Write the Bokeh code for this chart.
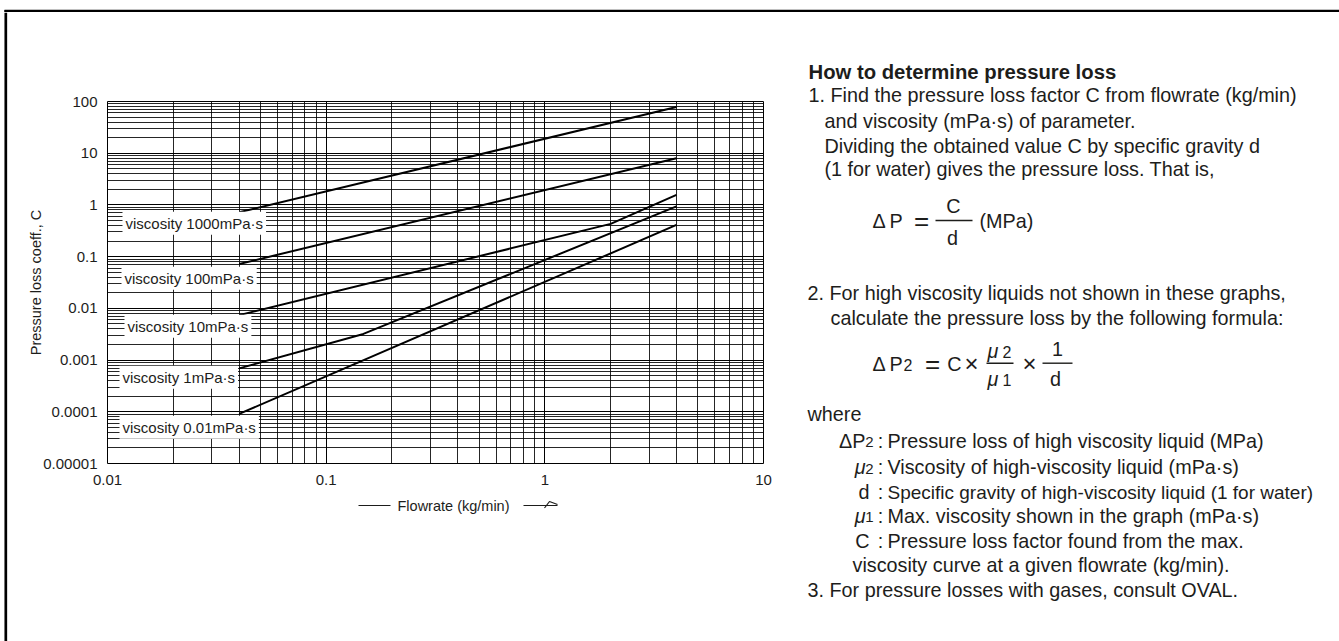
from bokeh.plotting import figure
from bokeh.layouts import row, column
from bokeh.models import Range1d, FixedTicker, CustomJSTickFormatter, Label
from bokeh.embed import file_html
from bokeh.resources import INLINE

# ---------------- data ----------------
X_RANGE = (0.01, 10)
Y_RANGE = (0.00001, 100)
X_TICKS = [0.01, 0.1, 1, 10]
X_TICK_LABELS = ["0.01", "0.1", "1", "10"]
Y_TICKS = [0.00001, 0.0001, 0.001, 0.01, 0.1, 1, 10, 100]
Y_TICK_LABELS = ["0.00001", "0.0001", "0.001", "0.01", "0.1", "1", "10", "100"]

SERIES_NAMES = ["viscosity 1000mPa·s", "viscosity 100mPa·s", "viscosity 10mPa·s",
                "viscosity 1mPa·s", "viscosity 0.01mPa·s"]
FLOW_V1000 = [0.04, 4.0]
COEF_V1000 = [0.72, 78.0]
FLOW_V100 = [0.04, 4.0]
COEF_V100 = [0.072, 8.0]
FLOW_V10 = [0.04, 2.0, 4.0]
COEF_V10 = [0.0074, 0.43, 1.57]
FLOW_V1 = [0.04, 0.148, 4.0]
COEF_V1 = [0.00069, 0.0032, 0.94]
FLOW_V001 = [0.04, 4.0]
COEF_V001 = [0.000091, 0.41]

X_LABEL = "Flowrate (kg/min)"
Y_LABEL = "Pressure loss coeff., C"

# ---------------- layout (page pixels) ----------------
W, H = 1339, 641
TOP_H = 12          # strip holding the top rule
LEFT_W = 8          # strip holding the left rule
CHART_W, CHART_H = 772, 480
FRAME_X0, FRAME_X1, FRAME_Y0, FRAME_Y1 = 107, 763, 101, 463
FONT = "Liberation Sans"
INK = "#1d1d1b"
TXT = 19.8


def blank(x0, x1, y0, y1, bl=0, br=0):
    """Figure in page-pixel coordinates (y down); frame spans x0+bl .. x1-br."""
    f = figure(width=int(x1 - x0), height=int(y1 - y0),
               x_range=Range1d(x0 + bl, x1 - br), y_range=Range1d(y1, y0),
               min_border=0, min_border_left=bl, min_border_right=br,
               x_axis_location=None, y_axis_location=None,
               output_backend="svg", toolbar_location=None, align="start",
               background_fill_color="white", border_fill_color="white")
    f.outline_line_color = None
    f.grid.visible = False
    return f


def text(f, x, y, s, size=TXT, align="left", style="normal", **kw):
    f.add_layout(Label(x=x, y=y, text=s, text_font=FONT, text_font_size=f"{size}px",
                       text_font_style=style, text_align=align,
                       text_baseline="middle", text_color=INK, **kw))


# ---------------- chart ----------------
p = figure(x_axis_type="log", y_axis_type="log",
           x_range=Range1d(*X_RANGE), y_range=Range1d(*Y_RANGE),
           width=CHART_W, height=CHART_H,
           min_border_left=FRAME_X0 - LEFT_W, min_border_right=LEFT_W + CHART_W - FRAME_X1,
           min_border_top=FRAME_Y0 - TOP_H, min_border_bottom=TOP_H + CHART_H - FRAME_Y1,
           output_backend="svg", toolbar_location=None, align="start",
           background_fill_color="white", border_fill_color="white")
p.outline_line_color = "black"
p.outline_line_width = 1

minor_x = [m * 10.0 ** e for e in range(-2, 1) for m in range(2, 10)]
minor_y = [m * 10.0 ** e for e in range(-5, 2) for m in range(2, 10)]
xt = FixedTicker(ticks=X_TICKS, minor_ticks=minor_x)
yt = FixedTicker(ticks=Y_TICKS, minor_ticks=minor_y)

FMT_CODE = """
let best = 0, d = Infinity;
for (let i = 0; i < vals.length; i++) {
  const e = Math.abs(Math.log10(vals[i]) - Math.log10(tick));
  if (e < d) { d = e; best = i; }
}
return labs[best];
"""
p.xaxis.ticker = xt
p.yaxis.ticker = yt
p.xgrid.ticker = xt
p.ygrid.ticker = yt
p.xaxis.formatter = CustomJSTickFormatter(args=dict(vals=X_TICKS, labs=X_TICK_LABELS), code=FMT_CODE)
p.yaxis.formatter = CustomJSTickFormatter(args=dict(vals=Y_TICKS, labs=Y_TICK_LABELS), code=FMT_CODE)

for ax in (p.xaxis[0], p.yaxis[0]):
    ax.axis_line_color = None
    ax.major_tick_line_color = None
    ax.minor_tick_line_color = None
    ax.major_tick_out = 0
    ax.minor_tick_out = 0
    ax.major_tick_in = 0
    ax.minor_tick_in = 0
    ax.major_label_text_font = FONT
    ax.major_label_text_font_size = "15px"
    ax.major_label_text_color = INK
p.xaxis.major_label_standoff = 11
p.yaxis.major_label_standoff = 10
p.yaxis.axis_label = Y_LABEL
p.yaxis.axis_label_text_font = FONT
p.yaxis.axis_label_text_font_size = "14.5px"
p.yaxis.axis_label_text_font_style = "normal"
p.yaxis.axis_label_text_color = INK
p.yaxis.axis_label_standoff = -4

p.grid.grid_line_color = "black"
p.grid.grid_line_width = 1
p.grid.minor_grid_line_color = "black"
p.grid.minor_grid_line_width = 1
p.grid.minor_grid_line_alpha = 0.85

for xs, ys in [(FLOW_V1000, COEF_V1000), (FLOW_V100, COEF_V100), (FLOW_V10, COEF_V10),
               (FLOW_V1, COEF_V1), (FLOW_V001, COEF_V001)]:
    p.line(xs, ys, line_color="black", line_width=2)

# series labels on white boxes (screen units are relative to the frame's lower-left)
LABEL_X = [122, 121, 124, 119, 119]
LABEL_Y = [222.7, 277.7, 325.7, 376.7, 426.7]
for name, lx, ly in zip(SERIES_NAMES, LABEL_X, LABEL_Y):
    p.add_layout(Label(x=lx - FRAME_X0, y=FRAME_Y1 - ly, x_units="screen", y_units="screen",
                       text=name, text_font=FONT, text_font_size="15px",
                       text_baseline="middle", text_color=INK,
                       background_fill_color="white", background_fill_alpha=1.0, padding=3))

# ---------------- x-axis caption strip (frame aligned with the chart frame) ----------------
leg = blank(LEFT_W, LEFT_W + CHART_W, TOP_H + CHART_H, H,
            bl=FRAME_X0 - LEFT_W, br=LEFT_W + CHART_W - FRAME_X1)
text(leg, 397, 505, X_LABEL, size=14.5)
leg.segment(x0=[358, 523], y0=[505, 505], x1=[390, 557], y1=[505, 505],
            line_color=INK, line_width=1.2)
leg.line([544, 549, 557], [507.5, 501, 504], line_color=INK, line_width=1.2)

# ---------------- page rules ----------------
top = blank(0, W, 0, TOP_H)
top.segment(x0=[4], y0=[10.5], x1=[W], y1=[10.5], line_color="black", line_width=2.3)
top.segment(x0=[5.3], y0=[9.4], x1=[5.3], y1=[TOP_H], line_color="black", line_width=2.7)
left = blank(0, LEFT_W, TOP_H, H)
left.segment(x0=[5.3], y0=[TOP_H], x1=[5.3], y1=[H], line_color="black", line_width=2.7)

# ---------------- explanatory text ----------------
t = blank(LEFT_W + CHART_W, W, TOP_H, H)
text(t, 808, 71, "How to determine pressure loss", size=20.3, style="bold")
text(t, 808, 94, "1. Find the pressure loss factor C from flowrate (kg/min)")
text(t, 824, 120, "and viscosity (mPa·s) of parameter.")
text(t, 824, 145, "Dividing the obtained value C by specific gravity d")
text(t, 824, 168, "(1 for water) gives the pressure loss. That is,")

# formula 1
text(t, 872, 220, "Δ")
text(t, 889, 220, "P")
text(t, 921, 220, "=", size=26, align="center")
text(t, 953, 205, "C", align="center")
text(t, 952, 237, "d", align="center")
text(t, 979, 220, "(MPa)")

text(t, 807, 292, "2. For high viscosity liquids not shown in these graphs,")
text(t, 830, 317, "calculate the pressure loss by the following formula:")

# formula 2
text(t, 872, 363, "Δ")
text(t, 889, 363, "P")
text(t, 903, 364.2, "2", size=16)
text(t, 932, 363, "=", size=26, align="center")
text(t, 954, 363, "C", align="center")
text(t, 971, 363, "×", size=24, align="center")
text(t, 987, 350, "μ", style="italic")
text(t, 1002, 351.2, "2", size=16)
text(t, 987, 378, "μ", style="italic")
text(t, 1002, 379.2, "1", size=16)
text(t, 1029, 363, "×", size=24, align="center")
text(t, 1057, 348, "1", align="center")
text(t, 1055, 378, "d", align="center")
t.segment(x0=[935, 986, 1042], y0=[220, 362.7, 362.7], x1=[972, 1013, 1072],
          y1=[220, 362.7, 362.7], line_color=INK, line_width=1.4)

text(t, 807, 413, "where")

DEF_SYMBOLS = [("ΔP", "2", "normal"), ("μ", "2", "italic"), ("d", "", "normal"),
               ("μ", "1", "italic"), ("C", "", "normal")]
DEF_Y = [440, 466.7, 491.7, 515, 540]
DEF_TEXT = ["Pressure loss of high viscosity liquid (MPa)",
            "Viscosity of high-viscosity liquid (mPa·s)",
            "Specific gravity of high-viscosity liquid (1 for water)",
            "Max. viscosity shown in the graph (mPa·s)",
            "Pressure loss factor found from the max."]
for (sym, sub, st), dy, txt in zip(DEF_SYMBOLS, DEF_Y, DEF_TEXT):
    if sub:
        text(t, 873, dy + 1.5, sub, size=15, align="right")
        text(t, 865, dy, sym, align="right", style=st)
    else:
        text(t, 869, dy, sym, align="right", style=st)
    text(t, 880, dy, ":", align="center")
    text(t, 887, dy, txt, size=(19.0 if "1 for water" in txt else TXT))
text(t, 852, 564, "viscosity curve at a given flowrate (kg/min).")
text(t, 807, 589, "3. For pressure losses with gases, consult OVAL.")

layout = column(top, row(left, column(p, leg, align="start"), t, align="start"), align="start")
open("out.html", "w").write(file_html(layout, INLINE))
